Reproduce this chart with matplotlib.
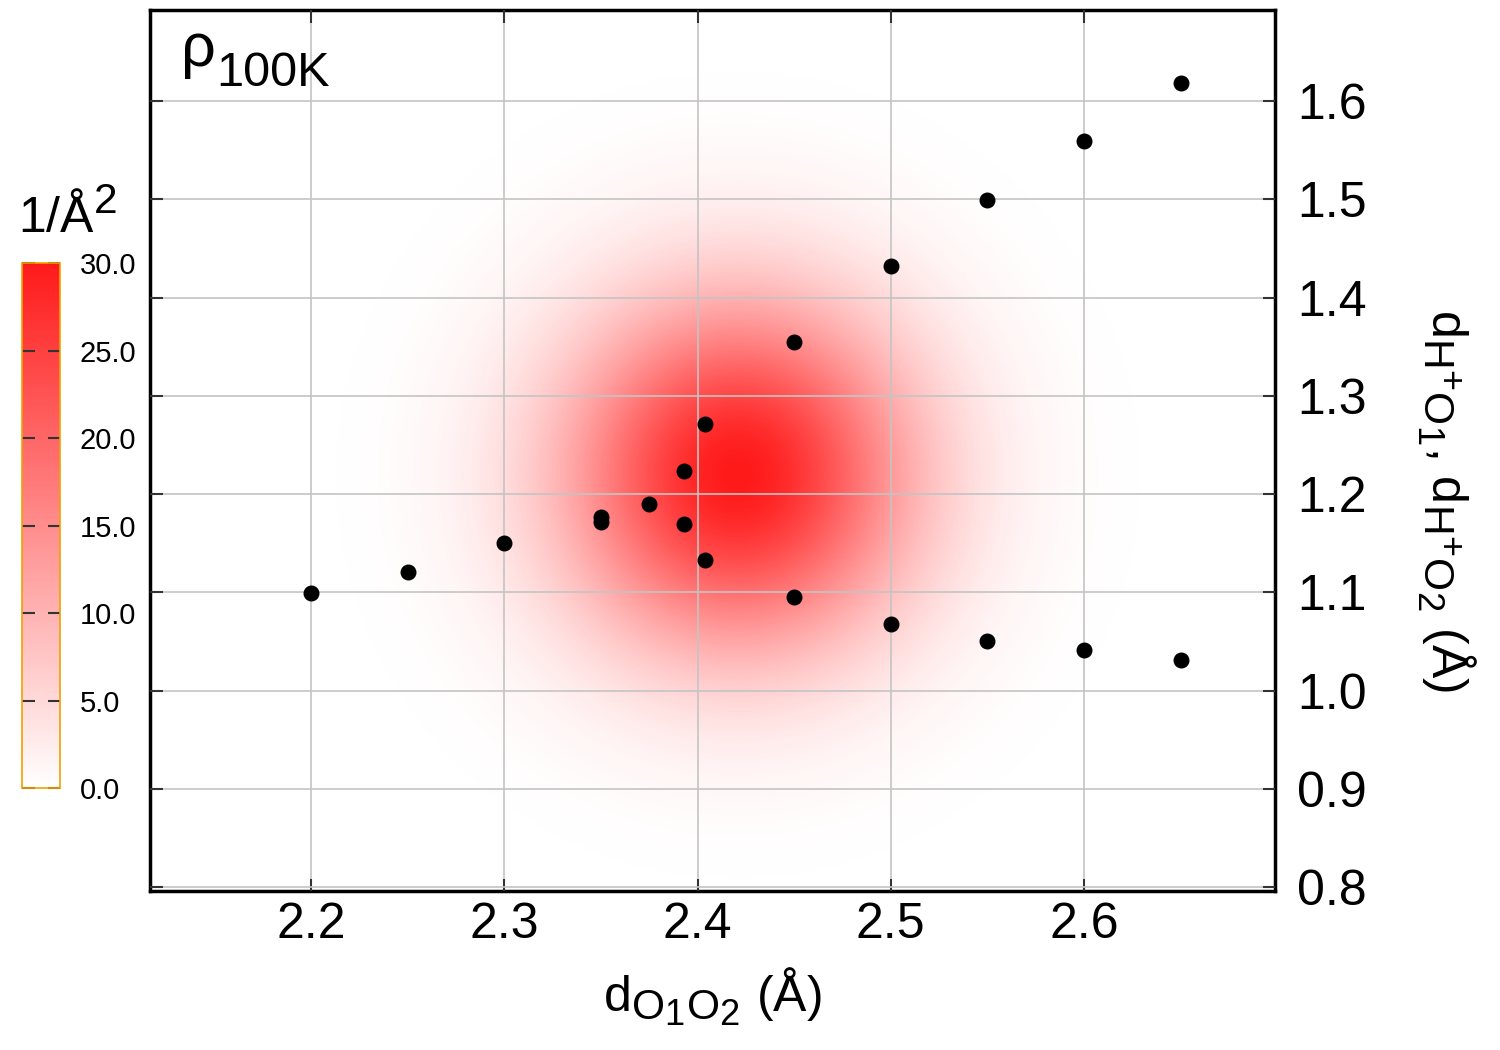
import numpy as np
import matplotlib
matplotlib.use('Agg')
from matplotlib import pyplot as plt
from matplotlib.colors import LinearSegmentedColormap
import matplotlib._mathtext as mt

plt.rcParams['font.family'] = ['Liberation Sans', 'DejaVu Sans']
plt.rcParams['mathtext.fontset'] = 'custom'
plt.rcParams['mathtext.rm'] = 'Liberation Sans'
plt.rcParams['mathtext.it'] = 'Liberation Sans:italic'
plt.rcParams['mathtext.bf'] = 'Liberation Sans:bold'
mt.SHRINK_FACTOR = 0.85  # gnuplot-like bigger subscripts

"""scatter points (d_O1O2, d_H+O)"""
d_oo = [2.2, 2.25, 2.3, 2.35, 2.35, 2.375, 2.393, 2.393, 2.404, 2.404,
        2.45, 2.45, 2.5, 2.5, 2.55, 2.55, 2.6, 2.6, 2.65, 2.65]
d_ho = [1.099, 1.121, 1.150, 1.177, 1.172, 1.190, 1.224, 1.170, 1.271, 1.133,
        1.355, 1.095, 1.432, 1.068, 1.499, 1.051, 1.559, 1.041, 1.618, 1.031]

"""density blob (peak ~30 1/A^2)"""
rho_center = (2.421, 1.219)
rho_sigma = (0.063, 0.124)
rho_peak = 30.0

x_ticks = [2.2, 2.3, 2.4, 2.5, 2.6]
y_ticks = [0.8, 0.9, 1.0, 1.1, 1.2, 1.3, 1.4, 1.5, 1.6]
cb_ticks = [0, 5, 10, 15, 20, 25, 30]

xlim = (2.1167, 2.6988)
ylim = (0.796, 1.6928)

"""density grid"""
gx = np.arange(xlim[0], xlim[1] + 0.005, 0.005)
gy = np.arange(ylim[0], ylim[1] + 0.005, 0.005)
X, Y = np.meshgrid(gx, gy)
Z = rho_peak * np.exp(-0.5 * (((X - rho_center[0]) / rho_sigma[0]) ** 2
                              + ((Y - rho_center[1]) / rho_sigma[1]) ** 2))

cmap = LinearSegmentedColormap.from_list('wr', ['#ffffff', '#ff1a1a'])

fig = plt.figure(figsize=(15, 10.5), dpi=100)
ax = fig.add_axes([0.1, 0.1514, 0.75, 0.8391])

im = ax.imshow(Z, origin='lower', extent=(gx[0], gx[-1], gy[0], gy[-1]),
               cmap=cmap, vmin=0, vmax=30, aspect='auto',
               interpolation='bilinear', zorder=0)
ax.grid(True, color='#c4c4c4', linewidth=1.2, zorder=1)
ax.set_axisbelow(False)
ax.scatter(d_oo, d_ho, s=110, color='black', zorder=3)

ax.set_xlim(xlim)
ax.set_ylim(ylim)
ax.set_xticks(x_ticks)
ax.set_yticks(y_ticks)
ax.xaxis.set_major_formatter(plt.FormatStrFormatter('%.1f'))
ax.yaxis.set_major_formatter(plt.FormatStrFormatter('%.1f'))
ax.tick_params(direction='in', length=9, width=1.5, color='#333333',
               top=True, bottom=True, left=True, right=True,
               labelleft=False, labelright=True, labelsize=36)
ax.tick_params(axis='x', pad=8)
ax.tick_params(axis='y', pad=16)
for s in ax.spines.values():
  s.set_linewidth(2.5)

ax.set_xlabel(r'd$_{\mathrm{O_1O_2}}$ (Å)', fontsize=36, labelpad=12)
ax.yaxis.set_label_position('right')
ax.set_ylabel(r'd$_{\mathrm{H^{+}O_1}}$, d$_{\mathrm{H^{+}O_2}}$ (Å)',
              fontsize=36, rotation=270, va='center', ha='center')
ax.yaxis.set_label_coords(1.152, 0.443)

"""rho_100K tag"""
fig.text(181 / 1500, 1 - 66 / 1050, 'ρ', fontsize=44, ha='left', va='baseline')
fig.text(216 / 1500, 1 - 86 / 1050, '100K', fontsize=35, ha='left', va='baseline')

"""colorbar"""
cax = fig.add_axes([0.0147, 0.2495, 0.0253, 0.5])
cb = fig.colorbar(im, cax=cax, ticks=cb_ticks, format='%.1f')
cb.outline.set_edgecolor('#f0a000')
cb.outline.set_linewidth(1.2)
cax.tick_params(direction='in', left=True, right=True, length=9, width=1.5,
                color='#333333', labelsize=21, pad=14)
fig.text(18 / 1500, 1 - 233 / 1050, r'1/Å$^{2}$', fontsize=36,
         ha='left', va='baseline')

fig.savefig('out.png', dpi=100)
